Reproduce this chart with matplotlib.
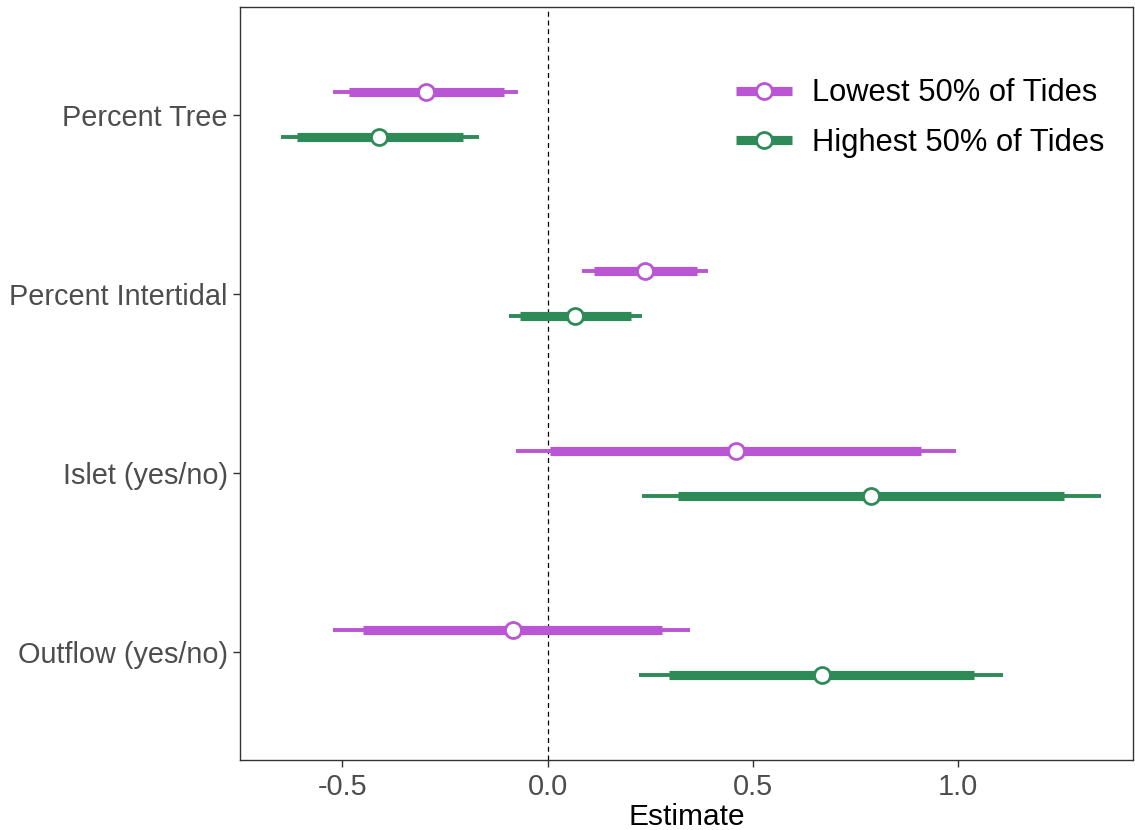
import numpy as np
import matplotlib.pyplot as plt
from matplotlib.lines import Line2D

plt.rcParams['font.family'] = ['Liberation Sans', 'DejaVu Sans']

# variables, top to bottom
variables = ['Percent Tree', 'Percent Intertidal', 'Islet (yes/no)', 'Outflow (yes/no)']

# Lowest 50% of tides
low_est = [-0.297, 0.238, 0.460, -0.085]
low_in_lo = [-0.484, 0.112, 0.005, -0.450]
low_in_hi = [-0.107, 0.365, 0.910, 0.280]
low_out_lo = [-0.523, 0.085, -0.078, -0.523]
low_out_hi = [-0.071, 0.392, 0.995, 0.348]

# Highest 50% of tides
high_est = [-0.411, 0.068, 0.788, 0.669]
high_in_lo = [-0.611, -0.068, 0.319, 0.297]
high_in_hi = [-0.207, 0.204, 1.258, 1.039]
high_out_lo = [-0.650, -0.095, 0.229, 0.224]
high_out_hi = [-0.168, 0.229, 1.348, 1.109]

purple = '#BA55D3'
green = '#2E8B57'

fig = plt.figure(figsize=(11.35, 8.30), dpi=100)
ax = fig.add_axes([0.2115, 0.0843, 0.7867, 0.9073])

ypos = np.arange(len(variables))[::-1] + 1.0
dodge = 0.125

series = [
    (low_est, low_in_lo, low_in_hi, low_out_lo, low_out_hi, purple, dodge),
    (high_est, high_in_lo, high_in_hi, high_out_lo, high_out_hi, green, -dodge),
]

ax.axvline(0, color='black', lw=0.9, ls=(0, (4, 3)), zorder=1)

for est, ilo, ihi, olo, ohi, col, off in series:
    y = ypos + off
    ax.hlines(y, olo, ohi, color=col, lw=2.8, zorder=2)
    ax.hlines(y, ilo, ihi, color=col, lw=6.6, zorder=3)
    ax.plot(est, y, 'o', ms=11.5, mfc='white', mec=col, mew=2.0, zorder=4, ls='none')

ax.set_xlim(-0.749, 1.426)
ax.set_ylim(0.4, 4.6)
ax.set_yticks(ypos)
ax.set_yticklabels(variables)
ax.set_xticks([-0.5, 0.0, 0.5, 1.0])
ax.set_xticklabels(['-0.5', '0.0', '0.5', '1.0'])
ax.tick_params(axis='both', labelsize=20.8, colors='#333333', labelcolor='#4D4D4D',
               length=5, width=1.0, pad=4)
ax.set_xlabel('Estimate', fontsize=21.5, color='black', labelpad=2)

for s in ax.spines.values():
    s.set_color('#333333')
    s.set_linewidth(1.0)

handles = [
    Line2D([], [], color=purple, lw=6.6, marker='o', ms=11.5, mfc='white', mec=purple, mew=2.0,
           solid_capstyle='butt'),
    Line2D([], [], color=green, lw=6.6, marker='o', ms=11.5, mfc='white', mec=green, mew=2.0,
           solid_capstyle='butt'),
]
ax.legend(handles, ['Lowest 50% of Tides', 'Highest 50% of Tides'], loc='upper right',
          bbox_to_anchor=(0.999, 0.942), frameon=False, fontsize=22.2,
          handlelength=1.8, handletextpad=0.65, labelspacing=0.62)

fig.savefig('out.png', dpi=100)
